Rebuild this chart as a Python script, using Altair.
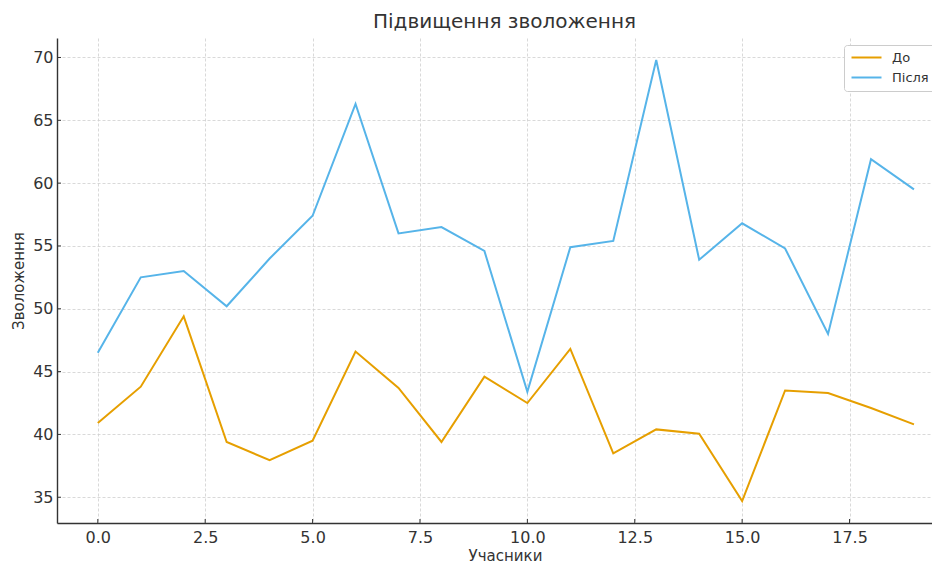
import altair as alt
import pandas as pd

participants = list(range(20))
before = [40.9, 43.8, 49.4, 39.4, 37.95, 39.5, 46.6, 43.7, 39.4, 44.6,
          42.5, 46.8, 38.5, 40.4, 40.05, 34.7, 43.5, 43.3, 42.1, 40.8]
after = [46.5, 52.5, 53.0, 50.2, 54.0, 57.4, 66.3, 56.0, 56.5, 54.6,
         43.4, 54.9, 55.4, 69.8, 53.9, 56.8, 54.8, 48.0, 61.9, 59.5]
series_names = ["До", "Після"]
series_colors = ["#E69F00", "#56B4E9"]
x_ticks = [0.0, 2.5, 5.0, 7.5, 10.0, 12.5, 15.0, 17.5]
y_ticks = [35, 40, 45, 50, 55, 60, 65, 70]

rows = []
for i, p in enumerate(participants):
    rows.append({"x": p, "y": before[i], "s": series_names[0]})
for i, p in enumerate(participants):
    rows.append({"x": p, "y": after[i], "s": series_names[1]})
df = pd.DataFrame(rows)

W, H = 875, 485
FONT = "DejaVu Sans"
xscale = alt.Scale(domain=[-0.95, 19.42], nice=False, zero=False)
yscale = alt.Scale(domain=[32.95, 71.55], nice=False, zero=False)

lines = alt.Chart(df).mark_line(strokeWidth=2, clip=True).encode(
    x=alt.X("x:Q", scale=xscale,
            axis=alt.Axis(values=x_ticks, format=".1f", title="Учасники",
                          titleX=448, titleFontSize=15, titleFontWeight="normal",
                          titlePadding=3, labelPadding=6, ticks=False)),
    y=alt.Y("y:Q", scale=yscale,
            axis=alt.Axis(values=y_ticks, format="d", title="Зволоження",
                          titleFontSize=15, titleFontWeight="normal",
                          titlePadding=6, labelPadding=4, ticks=False)),
    color=alt.Color("s:N", scale=alt.Scale(domain=series_names, range=series_colors),
                    sort=series_names,
                    legend=alt.Legend(title=None, orient="none", legendX=787, legendY=7,
                                      symbolType="M-3,0L3,0", symbolSize=100,
                                      symbolOffset=10, labelOffset=19,
                                      symbolStrokeWidth=2, labelFontSize=13,
                                      labelFont=FONT, padding=6, rowPadding=6,
                                      strokeColor="#cccccc", fillColor="white",
                                      cornerRadius=3, labelColor="#333333")),
)

xt = alt.Chart(pd.DataFrame({"t": x_ticks})).mark_rule(color="#333333", strokeWidth=1).encode(
    x=alt.X("t:Q", scale=xscale), y=alt.value(H), y2=alt.value(H - 4))
yt = alt.Chart(pd.DataFrame({"t": y_ticks})).mark_rule(color="#333333", strokeWidth=1).encode(
    y=alt.Y("t:Q", scale=yscale), x=alt.value(0), x2=alt.value(4))

chart = alt.layer(lines, xt, yt).properties(
    width=W, height=H,
    title=alt.TitleParams("Підвищення зволоження", fontSize=20, font=FONT,
                          fontWeight="normal", color="#333333", anchor="middle",
                          dx=10, offset=6),
    autosize=alt.AutoSizeParams(type="none"),
    padding={"left": 49, "top": 30, "right": 0, "bottom": 43},
).configure_view(stroke=None).configure_axis(
    labelFont=FONT, titleFont=FONT, labelFontSize=16, labelColor="#333333",
    titleColor="#333333", domainColor="#333333", domainWidth=1.4,
    gridColor="#cfcfcf", gridDash=[3, 2], gridWidth=0.8,
).configure_axisRight(domain=False).configure_axisTop(domain=False)

chart.save("out.html", embed_options={"renderer": "svg", "actions": False})
